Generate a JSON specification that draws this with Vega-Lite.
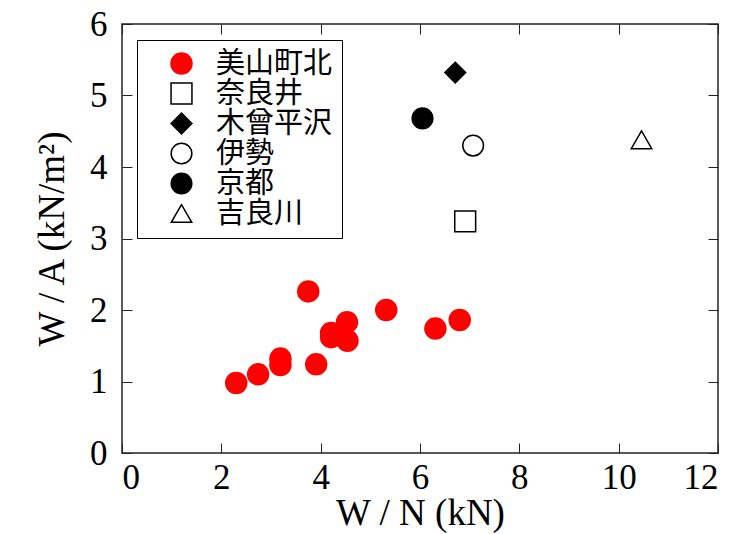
{
  "$schema": "https://vega.github.io/schema/vega-lite/v6.json",
  "width": 596,
  "height": 429,
  "autosize": "none",
  "padding": {"left": 122, "top": 24, "right": 33, "bottom": 81},
  "background": "white",
  "config": {
    "view": {"stroke": "#222222", "strokeWidth": 1.5},
    "axis": {
      "grid": false,
      "domain": false,
      "tickColor": "#222222",
      "tickWidth": 1,
      "tickSize": -10,
      "labelFont": "Liberation Serif",
      "labelFontSize": 35,
      "labelColor": "black",
      "titleFont": "Liberation Serif",
      "titleFontSize": 37,
      "titleFontWeight": "normal",
      "titleColor": "black"
    }
  },
  "data": {
    "values": [
      {"site": "美山町北", "WN": 2.30, "WA": 0.98},
      {"site": "美山町北", "WN": 2.74, "WA": 1.10},
      {"site": "美山町北", "WN": 3.19, "WA": 1.32},
      {"site": "美山町北", "WN": 3.19, "WA": 1.23},
      {"site": "美山町北", "WN": 3.75, "WA": 2.26},
      {"site": "美山町北", "WN": 3.91, "WA": 1.24},
      {"site": "美山町北", "WN": 4.21, "WA": 1.68},
      {"site": "美山町北", "WN": 4.21, "WA": 1.62},
      {"site": "美山町北", "WN": 4.53, "WA": 1.83},
      {"site": "美山町北", "WN": 4.54, "WA": 1.57},
      {"site": "美山町北", "WN": 5.32, "WA": 2.00},
      {"site": "美山町北", "WN": 6.31, "WA": 1.74},
      {"site": "美山町北", "WN": 6.80, "WA": 1.86},
      {"site": "奈良井", "WN": 6.91, "WA": 3.24},
      {"site": "木曾平沢", "WN": 6.71, "WA": 5.32},
      {"site": "伊勢", "WN": 7.07, "WA": 4.30},
      {"site": "京都", "WN": 6.05, "WA": 4.68},
      {"site": "吉良川", "WN": 10.46, "WA": 4.38}
    ]
  },
  "layer": [
    {
      "mark": {"type": "point", "filled": true, "strokeWidth": 1.5, "opacity": 1},
      "encoding": {
        "x": {"field": "WN", "type": "quantitative", "scale": {"domain": [0, 12], "nice": false, "zero": false},
              "axis": {"orient": "bottom", "values": [0, 2, 4, 6, 8, 10, 12], "title": "W / N (kN)", "labelPadding": 17, "titlePadding": 0}},
        "y": {"field": "WA", "type": "quantitative", "scale": {"domain": [0, 6], "nice": false, "zero": false},
              "axis": {"orient": "left", "values": [0, 1, 2, 3, 4, 5, 6], "title": "W / A (kN/m²)", "labelPadding": 25, "titlePadding": 18}},
        "shape": {"field": "site", "type": "nominal",
          "scale": {"domain": ["美山町北", "奈良井", "木曾平沢", "伊勢", "京都", "吉良川"],
                    "range": ["circle", "square", "diamond", "circle", "circle", "triangle-up"]},
          "legend": {
            "title": null,
            "orient": "none",
            "legendX": 15,
            "legendY": 16,
            "strokeColor": "black",
            "padding": 9,
            "symbolOffset": 21,
            "labelOffset": 20,
            "labelFont": "Noto Sans CJK JP",
            "labelFontSize": 29,
            "labelColor": "black",
            "rowPadding": 0,
            "symbolStrokeWidth": 1.5,
            "encode": {
              "legend": {"update": {"stroke": {"value": "black"}, "strokeWidth": {"value": 2}}},
              "labels": {"update": {"fill": {"signal": "datum.label === '美山町北' ? '#ff0000' : '#000000'"}}}
            }
          }},
        "fill": {"field": "site", "type": "nominal",
          "scale": {"domain": ["美山町北", "奈良井", "木曾平沢", "伊勢", "京都", "吉良川"],
                    "range": ["#ff0000", "#ffffff", "#000000", "#ffffff", "#000000", "#ffffff"]}},
        "stroke": {"field": "site", "type": "nominal",
          "scale": {"domain": ["美山町北", "奈良井", "木曾平沢", "伊勢", "京都", "吉良川"],
                    "range": ["#ff0000", "#000000", "#000000", "#000000", "#000000", "#000000"]}},
        "size": {"field": "site", "type": "nominal",
          "scale": {"domain": ["美山町北", "奈良井", "木曾平沢", "伊勢", "京都", "吉良川"],
                    "range": [441, 420, 625, 600, 484, 576]}}
      }
    },
    {
      "mark": {"type": "point", "opacity": 0},
      "encoding": {
        "x": {"field": "WN", "type": "quantitative", "scale": {"domain": [0, 12], "nice": false, "zero": false},
              "axis": {"orient": "top", "values": [0, 2, 4, 6, 8, 10, 12], "labels": false, "title": null}},
        "y": {"field": "WA", "type": "quantitative", "scale": {"domain": [0, 6], "nice": false, "zero": false},
              "axis": {"orient": "right", "values": [0, 1, 2, 3, 4, 5, 6], "labels": false, "title": null}}
      }
    }
  ],
  "resolve": {"axis": {"x": "independent", "y": "independent"}}
}
